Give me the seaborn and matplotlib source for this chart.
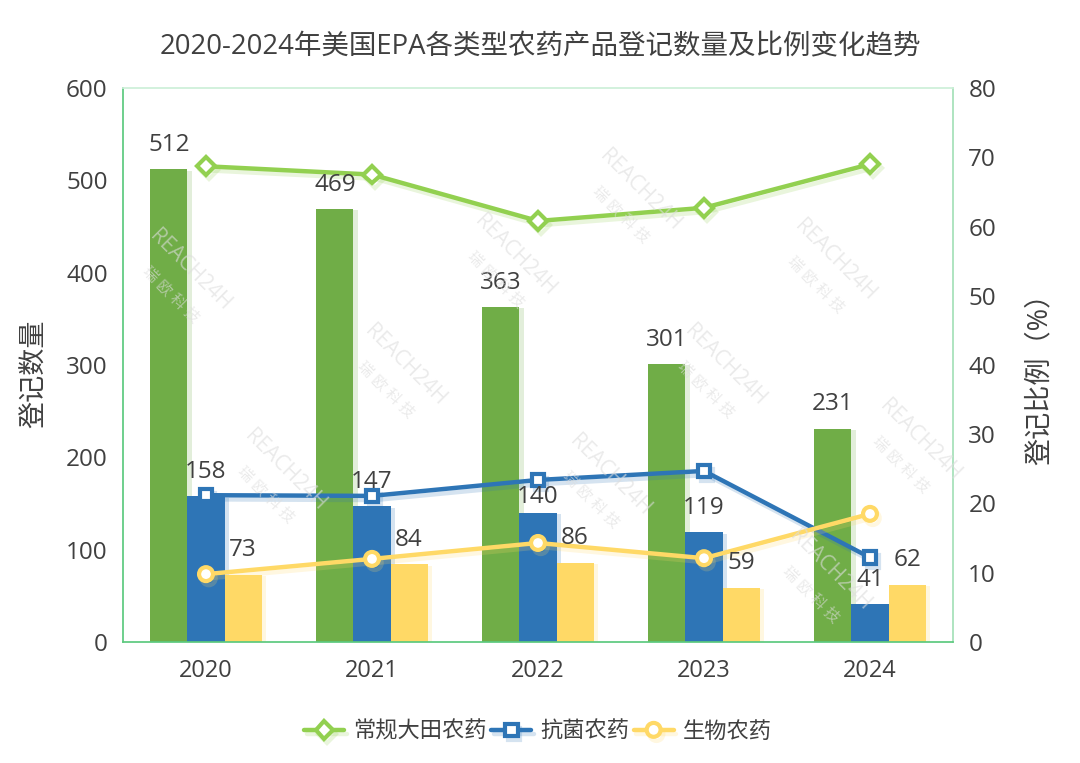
# takes no argument
# builds two DataFrames for visualization
def return_registration_data():
    
    import pandas as pd
    
    years = ['2020', '2021', '2022', '2023', '2024']
    
    # number of registrations for barchart
    count_data = {
        'year': years * 3,
        'type': ['常规大田农药'] * 5 + ['抗菌农药'] * 5 + ['生物农药'] * 5,
        'value': [512, 469, 363, 301, 231,
                  158, 147, 140, 119, 41,
                  73, 84, 86, 59, 62],
    }
    
    # share of registrations for lines (value range from 0-80)
    ratio_data = {
        'year': years * 3,
        'type': ['常规大田农药'] * 5 + ['抗菌农药'] * 5 + ['生物农药'] * 5,
        'value': [68.7, 67.5, 60.8, 62.7, 69.0,
                  21.2, 21.1, 23.4, 24.7, 12.2,
                  9.8, 12.0, 14.3, 12.1, 18.5],
    }
    
    # create DataFrames from dictionarys 
    count_df = pd.DataFrame(count_data)
    ratio_df = pd.DataFrame(ratio_data)
    
    return count_df, ratio_df


# takes two DataFrames as arguments, saves barplot with lines on a second axis
def show_registration_trends(count_df, ratio_df):
    
    import matplotlib.pyplot as plt
    import matplotlib.patheffects as pe
    import seaborn as sns
    
    sns.set_theme(style='white')
    plt.rcParams['font.family'] = ['Open Sans', 'Noto Sans CJK SC', 'DejaVu Sans']
    
    text_color = '#404040'
    bar_colors = ['#70AD47', '#2E75B6', '#FFD966']
    line_colors = ['#92D050', '#2E75B6', '#FFD966']
    markers = ['D', 's', 'o']
    marker_sizes = [9, 9, 10]
    names = ['常规大田农药', '抗菌农药', '生物农药']

    fig = plt.figure(figsize=(10.8, 7.63), dpi=100)
    ax = fig.add_axes([123/1080, 1 - 642/763, 830/1080, 554/763])

    # create barplot
    sns.barplot(data=count_df, 
            x='year', 
            y='value',
            hue='type',
            palette=bar_colors,
            width=0.67,
            saturation=1,
            linewidth=0,
            edgecolor='none',
            legend=False,
            ax=ax)
    
    # soft shadow next to the bars
    for container, color in zip(ax.containers, bar_colors):
        for bar in container:
            bar.set_path_effects([pe.SimplePatchShadow(offset=(3, -1), shadow_rgbFace=color, alpha=0.2), pe.Normal()])
    
    # set y-axis limit
    ax.set_xlim(-0.5, 4.5)
    ax.set_ylim(0, 600)
    ax.set_yticks(range(0, 601, 100))
    ax.set_xlabel('')
    ax.set_ylabel('登记数量', fontsize=19.5, color=text_color, labelpad=12, y=0.485)
    ax.tick_params(axis='x', labelsize=17, labelcolor=text_color, length=0, pad=12)
    ax.tick_params(axis='y', labelsize=17.5, labelcolor=text_color, length=0, pad=11)
    
    # frame fades from green on the left and bottom to pale on the top
    ax.spines['left'].set_color('#5CC97E')
    ax.spines['bottom'].set_color('#5CC97E')
    ax.spines['top'].set_color('#CDEFD8')
    ax.spines['right'].set_color('#A5E0B8')
    
    # second axis for the lines
    ax2 = ax.twinx()
    for i, name in enumerate(names):
        sns.lineplot(data=ratio_df[ratio_df['type'] == name], 
                x='year', 
                y='value',
                color=line_colors[i],
                linewidth=3.2,
                marker=markers[i],
                markersize=marker_sizes[i],
                markerfacecolor='white',
                markeredgecolor=line_colors[i],
                markeredgewidth=3,
                label=name,
                legend=False,
                ax=ax2)
    
    for i, line in enumerate(ax2.get_lines()):
        line.set_path_effects([pe.SimpleLineShadow(offset=(2, -3), shadow_color=line_colors[i], alpha=0.2), pe.Normal()])
    
    ax2.set_ylim(0, 80)
    ax2.set_yticks(range(0, 81, 10))
    ax2.set_ylabel('登记比例（%）', fontsize=19.5, color=text_color, labelpad=21, y=0.487)
    ax2.tick_params(axis='y', labelsize=17.5, labelcolor=text_color, length=0, pad=11)
    for side in ax2.spines:
        ax2.spines[side].set_visible(False)

    # value labels sit above the lines
    for i, name in enumerate(names):
        part = count_df[count_df['type'] == name]
        for j, value in enumerate(part['value']):
            gap = 11 if value == 140 else 17.5  # 140 is squeezed under the line
            ax2.annotate(str(value), (j + (i - 1) * 0.2233, value / 7.5), xytext=(0, gap), 
                    textcoords='offset points', ha='center', va='center',
                    fontsize=17.5, color=text_color, zorder=6)

    # faint watermark
    for x, y in [(190, 270), (405, 365), (515, 255), (285, 470), (725, 365),
                 (835, 260), (610, 475), (830, 570), (920, 440), (640, 190)]:
        fig.text(x/1080, 1 - y/763, 'REACH24H', rotation=-45, fontsize=15,
                color='#DDDDDD', alpha=0.6, ha='center', va='center', zorder=5)
        fig.text((x - 20)/1080, 1 - (y + 25)/763, '瑞 欧 科 技', rotation=-45, fontsize=11,
                color='#DDDDDD', alpha=0.6, ha='center', va='center', zorder=5)

    fig.text(540/1080, 1 - 47/763, '2020-2024年美国EPA各类型农药产品登记数量及比例变化趋势',
            fontsize=19.8, color=text_color, ha='center', va='center')
    
    handles, labels = ax2.get_legend_handles_labels()
    fig.legend(handles, labels, loc='center', bbox_to_anchor=(538/1080, 1 - 732/763),
            ncol=3, frameon=False, fontsize=16, labelcolor=text_color,
            handlelength=1.8, handletextpad=0.4, columnspacing=0.2)

    fig.savefig('out.png', dpi=100)


count_df, ratio_df = return_registration_data()
show_registration_trends(count_df, ratio_df)
